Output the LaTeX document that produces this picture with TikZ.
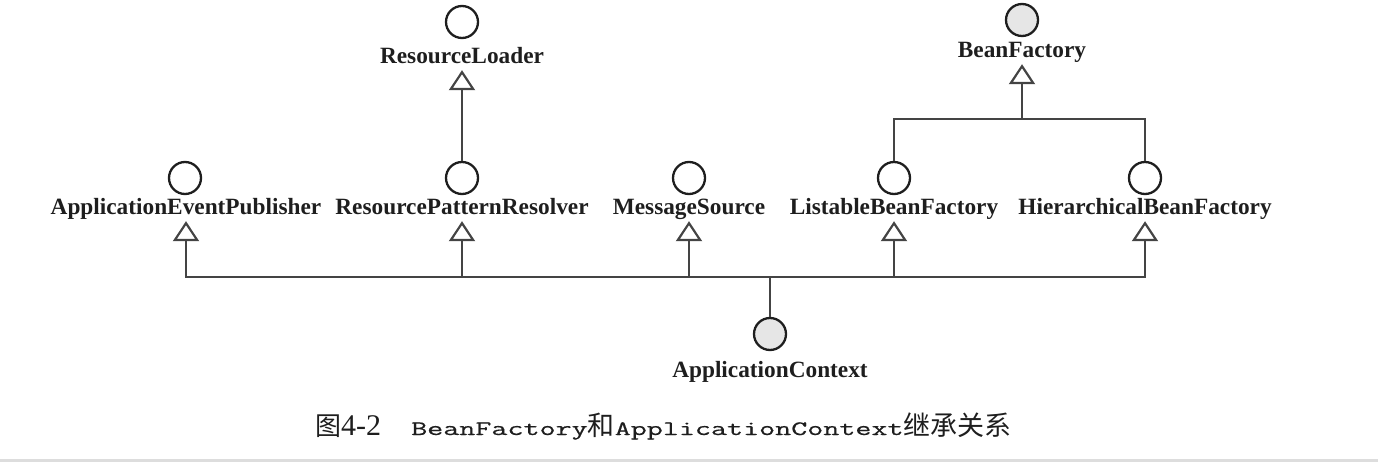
\documentclass[tikz,border=0pt]{standalone}
\usepackage{fontspec}
\setmainfont{Liberation Serif}
\newfontfamily\cjk{Noto Sans CJK SC}
\newfontfamily\mono[FakeBold=0.5]{Latin Modern Mono}
\usetikzlibrary{arrows.meta}
\definecolor{ink}{HTML}{1E1E1E}
\definecolor{lineg}{HTML}{444444}
\definecolor{ifill}{HTML}{E6E6E6}
\definecolor{band}{HTML}{DDDDDD}
\tikzset{
  iface/.style={circle, draw=ink, line width=2.3pt, minimum size=32pt, inner sep=0pt, fill=white},
  ifacegray/.style={iface, fill=ifill},
  lbl/.style={anchor=base, inner sep=0pt, text depth=6pt, text=ink,
    font=\bfseries\fontsize{23.3}{27}\selectfont},
  conn/.style={draw=lineg, line width=2.2pt},
  inh/.style={conn, -{Triangle[open, length=20pt, width=26pt, line width=2.2pt]}},
}
\begin{document}
\begin{tikzpicture}[x=1pt, y=-1pt]
\useasboundingbox (0,0) rectangle (1378,462);
\fill[band] (0,459) rectangle (1378,462);
% interface circles
\node[iface] (aep) at (185,178) {};
\node[iface] (rpr) at (462,178) {};
\node[iface] (ms) at (689,178) {};
\node[iface] (lbf) at (894,178) {};
\node[iface] (hbf) at (1145,178) {};
\node[iface] (rl) at (462,22) {};
\node[ifacegray] (bf) at (1022,20) {};
\node[ifacegray] (ac) at (770,334) {};
% labels
\node[lbl] (aepl) at (186,215) {ApplicationEventPublisher};
\node[lbl] (rprl) at (462,215) {ResourcePatternResolver};
\node[lbl] (msl) at (689,215) {MessageSource};
\node[lbl] (lbfl) at (894,215) {ListableBeanFactory};
\node[lbl] (hbfl) at (1145,215) {HierarchicalBeanFactory};
\node[lbl] (rll) at (462,64) {ResourceLoader};
\node[lbl] (bfl) at (1022,58) {BeanFactory};
\node[lbl] (acl) at (770,377) {ApplicationContext};
% junctions
\coordinate (acj) at (770,277);
\coordinate (bfj) at (1022,119);
% connectors
\draw[conn] (ac.north) -- (acj);
\draw[inh] (acj) -| (aepl.south);
\draw[inh] (acj) -| (rprl.south);
\draw[inh] (acj) -| (msl.south);
\draw[inh] (acj) -| (lbfl.south);
\draw[inh] (acj) -| (hbfl.south);
\draw[inh] (rpr.north) -- (rll.south);
\draw[conn] (lbf.north) |- (bfj) -| (hbf.north);
\draw[inh] (bfj) -- (bfl.south);
% caption
\node[anchor=base west, inner sep=0pt, text=ink] (caption) at (315,435)
  {{\cjk\fontsize{26}{30}\selectfont 图}{\fontsize{30}{30}\selectfont 4-2}\hspace{30pt}%
   \scalebox{1.52}[1]{\mono\fontsize{20.5}{24}\selectfont BeanFactory}%
   {\cjk\fontsize{27}{30}\selectfont 和}%
   \scalebox{1.52}[1]{\mono\fontsize{20.5}{24}\selectfont ApplicationContext}%
   {\cjk\fontsize{27}{30}\selectfont 继承关系}};
\end{tikzpicture}
\end{document}
